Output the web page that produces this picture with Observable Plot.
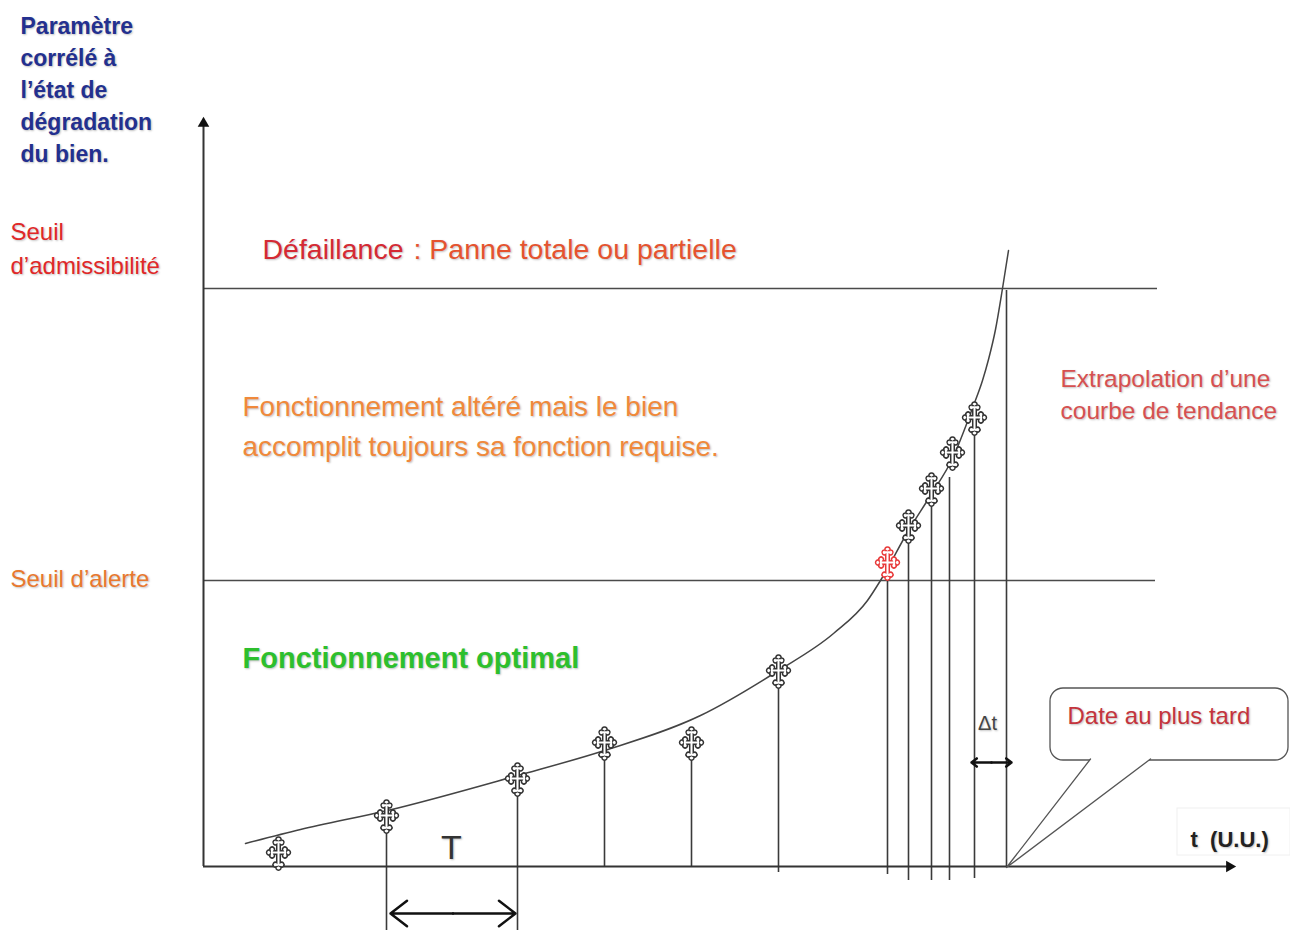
<!DOCTYPE html>
<html>
<head>
<meta charset="utf-8">
<script src="https://cdn.jsdelivr.net/npm/d3@7"></script>
<script src="https://cdn.jsdelivr.net/npm/@observablehq/plot@0.6"></script>
<style>
  html, body { margin: 0; padding: 0; background: #fff; }
  svg text { text-shadow: 1px 1px 2px rgba(0,0,0,0.25); }
</style>
</head>
<body>
<script>
// ---- Data (units: t in U.U., parameter in arbitrary units) ----
// Measurement points (inspections)
const measT = [7.5, 18.3, 31.4, 40.1, 48.8, 57.5, 68.4, 70.5, 72.8, 74.9, 77.1];
const measY = [1.4, 5.1, 8.8, 12.4, 12.4, 19.6, 30.4, 34.1, 37.8, 41.4, 44.9];
const alertIndex = 6; // first measurement above the alert threshold

// Trend curve (extrapolation)
const trendT = [4.2, 9.7, 18.4, 31.4, 40.1, 49.7, 57.5, 63.0, 66.4, 67.7, 70.5, 72.7, 74.9, 77.0, 77.9, 78.5, 79.2, 79.9, 80.5];
const trendY = [2.3, 3.7, 5.6, 9.1, 11.6, 15.1, 19.6, 23.3, 26.6, 28.6, 33.6, 37.1, 40.8, 46.1, 48.6, 50.7, 53.7, 57.8, 61.6];

// Vertical drop lines from the measurements to the time axis
const dropT      = [18.3, 31.4, 40.1, 48.8, 57.5, 68.4, 70.5, 72.8, 74.6, 77.1, 80.3];
const dropTop    = [3.8, 7.6, 10.9, 10.9, 18.2, 28.8, 32.6, 36.1, 38.9, 43.4, 57.6];
const dropBottom = [-6.4, -6.4, 0, 0, -0.6, -0.8, -1.4, -1.4, -1.4, -1.2, 0];

// Thresholds
const thresholdNames = ["Seuil d’admissibilité", "Seuil d’alerte"];
const thresholdY = [57.8, 28.6];
const thresholdEnd = [95.4, 95.2];

// Axis extents
const axisXEnd = 102.6, axisYEnd = 74.3;

// Dimension arrows: T (period) and Δt
const periodArrow = {x1: 18.7, x2: 31.2, y: -4.7};
const deltaArrow = {x1: 76.8, x2: 80.8, y: 10.4};

// Callout "Date au plus tard"
const callout = {x1: 84.7, x2: 108.5, y1: 10.6, y2: 17.8};
const calloutTailT = [88.7, 80.3, 94.7];
const calloutTailY = [10.75, -0.1, 10.75];

// Labels
const labels = [
  {text: "Paramètre\ncorrélé à\nl’état de\ndégradation\ndu bien.", x: -18.3, y: 77.85, color: "#23308f", size: 23, weight: "bold", anchor: "start", lh: 1.39},
  {text: "Seuil\nd’admissibilité", x: -19.3, y: 62.0, color: "#e02828", size: 24, weight: "normal", anchor: "start", lh: 1.4},
  {text: "Seuil d’alerte", x: -19.3, y: 28.9, color: "#e8782e", size: 24, weight: "normal", anchor: "start", lh: 1.2},
  {text: "Défaillance", x: 5.9, y: 61.8, color: "#d42a34", size: 28.5, weight: "normal", anchor: "start", lh: 1.2},
  {text: ": Panne totale ou partielle", x: 21.0, y: 61.8, color: "#e5532f", size: 28.5, weight: "normal", anchor: "start", lh: 1.2},
  {text: "Fonctionnement altéré mais le bien\naccomplit toujours sa fonction requise.", x: 3.9, y: 44.3, color: "#f0893b", size: 28, weight: "normal", anchor: "start", lh: 1.43},
  {text: "Fonctionnement optimal", x: 3.9, y: 21.0, color: "#2dbf2d", size: 29, weight: "bold", anchor: "start", lh: 1.2},
  {text: "Extrapolation d’une\ncourbe de tendance", x: 85.7, y: 47.4, color: "#d65050", size: 24.5, weight: "normal", anchor: "start", lh: 1.3},
  {text: "Date au plus tard", x: 86.4, y: 15.2, color: "#c4343c", size: 24, weight: "normal", anchor: "start", lh: 1.2},
  {text: "T", x: 24.8, y: 2.1, color: "#333333", size: 34, weight: "normal", anchor: "middle", lh: 1.2},
  {text: "Δt", x: 78.4, y: 14.4, color: "#444444", size: 20, weight: "normal", anchor: "middle", lh: 1.2},
  {text: "t  (U.U.)", x: 98.7, y: 2.8, color: "#222222", size: 22, weight: "bold", anchor: "start", lh: 1.2}
];
const unitBox = {x1: 97.4, x2: 108.7, y1: 1.1, y2: 5.8};

// ---- Tables built from the arrays ----
const measures = measT.map((t, i) => ({t, y: measY[i], alert: i === alertIndex}));
const trend = trendT.map((t, i) => ({t, y: trendY[i]}));
const drops = dropT.map((t, i) => ({t, top: dropTop[i], bottom: dropBottom[i]}));
const thresholds = thresholdNames.map((name, i) => ({name, y: thresholdY[i], end: thresholdEnd[i]}));
const tail = calloutTailT.map((t, i) => ({t, y: calloutTailY[i]}));
const arrowHeads = [{t: axisXEnd, y: 0, rot: 90}, {t: 0, y: axisYEnd, rot: 0}];
// double-headed dimension arrows, drawn as two halves from the middle outwards
const dimHalves = [periodArrow, deltaArrow].flatMap(a => {
  const m = (a.x1 + a.x2) / 2;
  return [{x1: m, x2: a.x1, y: a.y}, {x1: m, x2: a.x2, y: a.y}];
});

// Cross fleury symbol (outlined)
const fleury = {
  draw(ctx, size) {
    const k = Math.sqrt(size / Math.PI) / 12;
    const hw = 1.7, rs = 2.3, off = 1.3, rt = 2.5;
    const arms = [[0, 11.5], [-Math.PI / 2, 15], [-Math.PI, 11.5], [-1.5 * Math.PI, 17]];
    const aS = Math.asin(off / rs); // angle where side lobe meets the arm edge
    const aT = 112 * Math.PI / 180;
    arms.forEach(([th, L], idx) => {
      const c = Math.cos(th), s = Math.sin(th);
      const P = (a, b) => [k * (a * c - b * s), k * (a * s + b * c)];
      const sc = L - 2 * rt - rs * 0.15;       // side lobe centre along the arm
      const p0 = P(hw, hw);
      if (idx === 0) ctx.moveTo(...p0); else ctx.lineTo(...p0);
      ctx.lineTo(...P(sc - rs * Math.cos(aS), hw));
      ctx.arc(...P(sc, hw + off), rs * k, th + Math.PI + aS, th - aS, true);
      ctx.arc(...P(L - rt, 0), rt * k, th + aT, th - aT, true);
      ctx.arc(...P(sc, -hw - off), rs * k, th + aS, th - Math.PI - aS, true);
      ctx.lineTo(...P(hw, -hw));
    });
    ctx.closePath();
  }
};

const lineColor = "#3a3a3a";

const chart = Plot.plot({
  width: 1290,
  height: 933,
  marginLeft: 203,
  marginRight: 50,
  marginTop: 116,
  marginBottom: 67,
  x: {domain: [0, 103.7], axis: null},
  y: {domain: [0, 75], axis: null},
  style: {fontFamily: "'Liberation Sans', Arial, sans-serif", background: "white", overflow: "visible"},
  marks: [
    // threshold lines
    Plot.ruleY(thresholds, {y: "y", x1: 0, x2: "end", stroke: "#4a4a4a", strokeWidth: 1.6}),
    // drop lines
    Plot.ruleX(drops, {x: "t", y1: "top", y2: "bottom", stroke: lineColor, strokeWidth: 1.6}),
    // axes
    Plot.ruleY([0], {x1: 0, x2: axisXEnd, stroke: "#333", strokeWidth: 2}),
    Plot.ruleX([0], {y1: 0, y2: axisYEnd, stroke: "#333", strokeWidth: 2}),
    Plot.dot(arrowHeads, {x: "t", y: "y", rotate: "rot", symbol: "triangle", r: 4.3, fill: "#111", stroke: null}),
    // trend curve
    Plot.line(trend, {x: "t", y: "y", curve: "monotone-x", stroke: "#444", strokeWidth: 1.5}),
    // measurement markers
    Plot.dot(measures.filter(d => !d.alert), {x: "t", y: "y", symbol: fleury, r: 12.5, fill: "white", stroke: "#333", strokeWidth: 1.5}),
    Plot.dot(measures.filter(d => d.alert), {x: "t", y: "y", symbol: fleury, r: 12.5, fill: "white", stroke: "#e83a3a", strokeWidth: 1.5}),
    // dimension arrows
    Plot.arrow(dimHalves, {x1: "x1", x2: "x2", y1: "y", y2: "y", stroke: "#111", strokeWidth: 2.5, headLength: 13, headAngle: 75}),
    // unit box
    Plot.rect([unitBox], {x1: "x1", x2: "x2", y1: "y1", y2: "y2", fill: "white", stroke: "#f0f0f0"}),
    // callout
    Plot.rect([callout], {x1: "x1", x2: "x2", y1: "y1", y2: "y2", rx: 13, ry: 13, fill: "white", stroke: "#555", strokeWidth: 1.3}),
    Plot.line(tail, {x: "t", y: "y", fill: "white", stroke: "#555", strokeWidth: 1.3}),
    // labels
    ...labels.map(l => Plot.text([l], {
      x: "x", y: "y", text: "text", fill: l.color, fontSize: l.size, fontWeight: l.weight,
      textAnchor: l.anchor, lineAnchor: "middle", lineHeight: l.lh
    }))
  ]
});
document.body.appendChild(chart);
</script>
</body>
</html>
